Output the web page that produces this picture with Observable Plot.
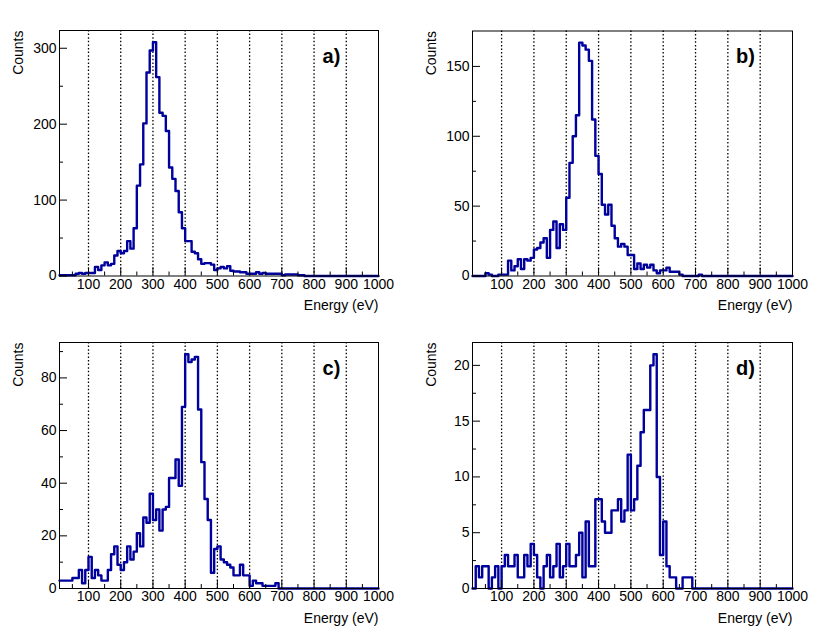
<!DOCTYPE html>
<html>
<head>
<meta charset="utf-8">
<script src="https://cdn.jsdelivr.net/npm/d3@7"></script>
<script src="https://cdn.jsdelivr.net/npm/@observablehq/plot@0.6"></script>
<style>
  html, body { margin: 0; padding: 0; background: white; }
  #wrap { position: relative; width: 830px; height: 639px; overflow: hidden; background: white; }
  .p { position: absolute; }
</style>
</head>
<body>
<div id="wrap"></div>
<script>
// Histogram bins: 10 eV wide, lower edges 10 ... 990
const binLow = d3.range(10, 1000, 10);

const countsA = [1,1,1,1,1,3,4,3,4,4, 4,12,8,14,18,14,16,27,33,30, 33,46,36,63,119,147,201,268,297,308,
  262,215,211,191,143,128,112,84,63,46, 46,32,30,22,16,17,17,15,8,10, 12,10,13,7,6,6,5,5,3,3,
  3,5,3,4,3,3,3,3,3,1, 2,2,2,2,1,1,0,0,0,0, 0,0,0,0,0,0,0,0,0,0, 0,0,0,0,0,0,0,0,0];

const countsB = [0,0,0,0,2,1,0,0,1,1, 1,11,4,7,12,5,12,11,13,19, 20,24,27,13,33,39,20,37,33,56,
  81,100,115,167,165,162,154,112,86,73, 51,44,51,36,27,21,23,21,15,15, 5,9,5,8,6,8,4,2,4,4,
  6,3,3,3,1,0,0,0,0,0, 1,0,0,0,0,0,0,0,0,0, 0,0,0,0,0,0,0,0,0,0, 0,0,0,0,0,0,0,0,0];

const countsC = [3,3,3,3,4,4,7,2,7,12, 4,7,5,3,3,7,13,16,9,7, 10,16,11,14,21,16,27,25,36,26,
  30,22,30,31,42,42,49,39,69,89, 86,87,88,68,48,34,26,6,15,16, 11,10,9,8,5,5,9,5,5,1,
  3,2,2,1,1,1,1,2,0,0, 0,0,0,0,0,0,0,0,0,0, 0,0,0,0,0,0,0,0,0,0, 0,0,0,0,0,0,0,0,0];

const countsD = [0,2,1,2,2,0,1,2,0,2, 3,2,2,3,1,1,3,2,4,3, 1,0,2,3,1,2,4,1,2,4,
  2,2,3,5,1,6,2,2,8,8, 6,5,5,7,7,8,6,7,12,7, 8,11,14,16,16,20,21,10,3,6,
  2,1,1,0,0,1,1,1,0,0, 0,0,0,0,0,0,0,0,0,0, 0,0,0,0,0,0,0,0,0,0, 0,0,0,0,0,0,0,0,0];

const xMajor = [100,200,300,400,500,600,700,800,900,1000];
const xMinor = [50,150,250,350,450,550,650,750,850,950];
const xGrid = [100,200,300,400,500,600,700,800,900];

const yMajorA = [0,100,200,300], yMinorA = [50,150,250];
const yMajorB = [0,50,100,150], yMinorB = [25,75,125];
const yMajorC = [0,20,40,60,80], yMinorC = [10,30,50,70,90];
const yMajorD = [0,5,10,15,20], yMinorD = [2.5,7.5,12.5,17.5];

const panels = [
  {counts: countsA, tag: "a)", yMajor: yMajorA, yMinor: yMinorA, left: 0,   top: 0,   ml: 59, mr: 37, mt: 30, mb: 43.5},
  {counts: countsB, tag: "b)", yMajor: yMajorB, yMinor: yMinorB, left: 415, top: 0,   ml: 57, mr: 38, mt: 30.5, mb: 43.5},
  {counts: countsC, tag: "c)", yMajor: yMajorC, yMinor: yMinorC, left: 0,   top: 312, ml: 59, mr: 37, mt: 30, mb: 43},
  {counts: countsD, tag: "d)", yMajor: yMajorD, yMinor: yMinorD, left: 415, top: 312, ml: 57, mr: 38, mt: 30, mb: 43}
];

const W = 415, H = 319;
const FS = 14;
const wrap = document.getElementById("wrap");

for (const p of panels) {
  const data = binLow.map((e, i) => ({x: e, y: p.counts[i]}));
  data.push({x: 1000, y: p.counts[p.counts.length - 1]});
  const ymax = 1.05 * d3.max(p.counts);
  const fw = W - p.ml - p.mr, fh = H - p.mt - p.mb;
  const chart = Plot.plot({
    width: W, height: H,
    marginLeft: p.ml, marginRight: p.mr, marginTop: p.mt, marginBottom: p.mb,
    x: {domain: [10, 1000]},
    y: {domain: [0, ymax]},
    style: {fontFamily: "'Liberation Sans', Arial, Helvetica, sans-serif", fontSize: FS + "px", color: "black", background: "none", overflow: "visible"},
    marks: [
      Plot.ruleX(xGrid, {x: d => d, stroke: "black", strokeWidth: 1.3, strokeDasharray: "1.5,2.1"}),
      Plot.line(data, {x: "x", y: "y", curve: "step-after", stroke: "#00009c", strokeWidth: 2.4}),
      Plot.tickX(xMajor, {x: d => d, insetTop: fh - 8, stroke: "black"}),
      Plot.tickX(xMinor, {x: d => d, insetTop: fh - 4, stroke: "black"}),
      Plot.tickY(p.yMajor, {y: d => d, insetRight: fw - 8, stroke: "black"}),
      Plot.tickY(p.yMinor, {y: d => d, insetRight: fw - 4, stroke: "black"}),
      Plot.axisX(xMajor, {tickSize: 0, tickPadding: 3, label: null, fontSize: FS, tickFormat: d => String(d)}),
      Plot.axisY(p.yMajor, {tickSize: 0, tickPadding: 3, label: null, fontSize: FS, tickFormat: d => String(d)}),
      Plot.frame({stroke: "black", strokeWidth: 1}),
      Plot.text(["Counts"], {frameAnchor: "top-left", dx: -40.5, rotate: -90, textAnchor: "end", lineAnchor: "middle", fontSize: FS}),
      Plot.text(["Energy (eV)"], {frameAnchor: "bottom-right", dy: 30, textAnchor: "end", lineAnchor: "middle", fontSize: FS}),
      Plot.text([p.tag], {frameAnchor: "top-right", dx: -47, dy: 26, fontWeight: "bold", fontSize: 20, textAnchor: "middle", lineAnchor: "middle"})
    ]
  });
  chart.classList.add("p");
  chart.style.left = p.left + "px";
  chart.style.top = p.top + "px";
  wrap.appendChild(chart);
}
</script>
</body>
</html>
